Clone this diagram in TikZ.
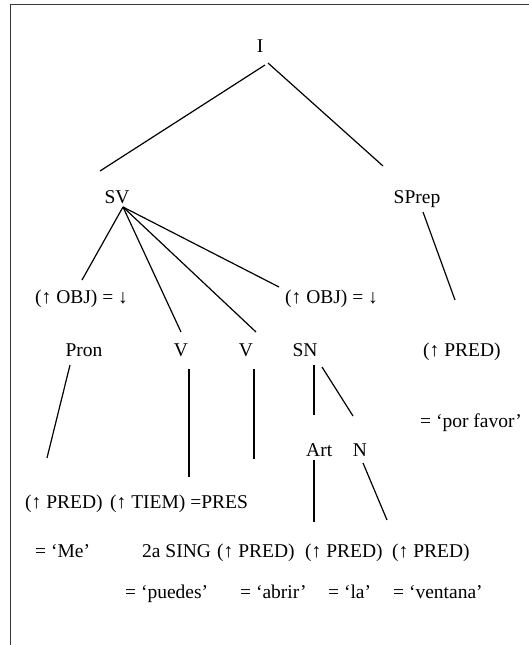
\documentclass[tikz,border=0pt]{standalone}
\usepackage{fontspec}
\setmainfont{Liberation Serif}
\usetikzlibrary{calc}
\definecolor{framegray}{RGB}{55,55,55}
\tikzset{
  cat/.style={font=\rmfamily\fontsize{19.5}{23}\selectfont, inner sep=0pt, anchor=base},
  ann/.style={font=\rmfamily\fontsize{19.5}{23}\selectfont, inner sep=0pt, anchor=base west},
  branch/.style={line width=1.2pt, black},
}

\begin{document}
\begin{tikzpicture}[x=1pt,y=1pt]
  \useasboundingbox (0,0) rectangle (529,-645);
  % frame
  \draw[framegray, line width=1pt] (10.5,-645) -- (10.5,-4) -- (529,-4);

  % categories
  \node[cat] (top)   at (260,-52)  {I};
  \node[cat] (sv)    at (117,-203) {SV};
  \node[cat] (sprep) at (417,-203) {SPrep};
  \node[cat] (pron)  at (84,-356)  {Pron};
  \node[cat] (v1)    at (181,-356) {V};
  \node[cat] (v2)    at (246,-356) {V};
  \node[cat] (sn)    at (305,-356) {SN};
  \node[ann] (art)   at (306,-456) {Art};
  \node[cat] (n)     at (360,-456) {N};

  % annotations
  \node[ann] (objl)     at (35,-303)  {(↑ OBJ) = ↓};
  \node[ann] (objr)     at (285,-303) {(↑ OBJ) = ↓};
  \node[ann] (predp)    at (423,-356) {(↑ PRED)};
  \node[ann] (porfavor) at (420,-427) {= ‘por favor’};
  \node[ann] (predme)   at (25,-508)  {(↑ PRED)};
  \node[ann] (tiem)     at (110,-508) {(↑ TIEM) =PRES};
  \node[ann] (me)       at (35,-557)  {= ‘Me’};
  \node[ann] (sing)     at (142,-557) {2a SING};
  \node[ann] (predv)    at (217,-557) {(↑ PRED)};
  \node[ann] (predart)  at (305,-557) {(↑ PRED)};
  \node[ann] (predn)    at (392,-557) {(↑ PRED)};
  \node[ann] (puedes)   at (125,-598) {= ‘puedes’};
  \node[ann] (abrir)    at (240,-598) {= ‘abrir’};
  \node[ann] (la)       at (328,-598) {= ‘la’};
  \node[ann] (ventana)  at (393,-598) {= ‘ventana’};

  % branches
  \draw[branch] ([xshift=5pt,yshift=-13pt]top.base) -- ([xshift=-17pt,yshift=32pt]sv.base);
  \draw[branch] ([xshift=8pt,yshift=-11pt]top.base) -- ([xshift=-34pt,yshift=37pt]sprep.base);
  \draw[branch] ([xshift=6pt,yshift=-4pt]sv.base) -- ([xshift=47pt,yshift=23pt]objl.base west);
  \draw[branch] ([xshift=6pt,yshift=-4pt]sv.base) -- ([yshift=24pt]v1.base);
  \draw[branch] ([xshift=6pt,yshift=-4pt]sv.base) -- ([xshift=10pt,yshift=24pt]v2.base);
  \draw[branch] ([xshift=6pt,yshift=-4pt]sv.base) -- ([xshift=-6pt,yshift=16pt]objr.base west);
  \draw[branch] ([xshift=6pt,yshift=-9pt]sprep.base) -- ([xshift=32pt,yshift=56pt]predp.base west);
  \draw[branch] ([xshift=-14pt,yshift=-9pt]pron.base) -- ([xshift=22pt,yshift=50pt]predme.base west);
  \draw[branch] ([xshift=8pt,yshift=-13pt]v1.base) -- ([xshift=79pt,yshift=31pt]tiem.base west);
  \draw[branch] ([xshift=8pt,yshift=-13pt]v2.base) -- ([xshift=144pt,yshift=49pt]tiem.base west);
  \draw[branch] ([xshift=9pt,yshift=-9pt]sn.base) -- ([xshift=8pt,yshift=41pt]art.base west);
  \draw[branch] ([xshift=17pt,yshift=-11pt]sn.base) -- ([xshift=-7pt,yshift=40pt]n.base);
  \draw[branch] ([xshift=8pt,yshift=-4pt]art.base west) -- ([xshift=9pt,yshift=35pt]predart.base west);
  \draw[branch] ([xshift=3pt,yshift=-7pt]n.base) -- ([xshift=-5pt,yshift=37pt]predn.base west);
\end{tikzpicture}
\end{document}
